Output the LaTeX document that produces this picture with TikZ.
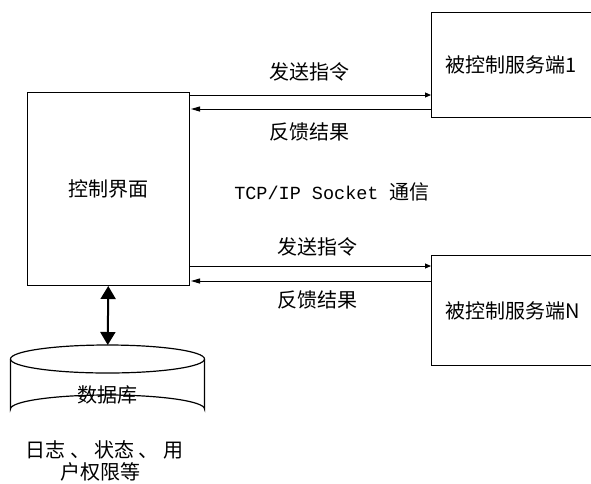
\documentclass[tikz,border=0pt]{standalone}
\usepackage{fontspec}
\setmainfont{Liberation Serif}
\newfontfamily\cjk{Noto Sans CJK SC}
\newfontfamily\monofam{Liberation Mono}
\usetikzlibrary{arrows.meta}
\begin{document}
\begin{tikzpicture}[x=1pt,y=-1pt,
  box/.style={draw, line width=1pt, inner sep=0pt, font=\cjk\fontsize{20}{22}\selectfont},
  lbl/.style={font=\cjk\fontsize{20}{22}\selectfont, inner sep=0pt},
  sendarrow/.style={line width=1pt, -{Triangle[length=6pt,width=5pt]}},
  backarrow/.style={line width=1pt, -{Triangle[length=9pt,width=5pt]}},
  dblarrow/.style={line width=2pt, {Triangle[length=13pt,width=15pt]}-{Triangle[length=13pt,width=15pt]}},
  cyl/.style={line width=1.2pt}]
\useasboundingbox (0,0) rectangle (591,483);
\clip (0,0) rectangle (591,483);
% boxes
\node[box, minimum width=161.5pt, minimum height=193pt, anchor=north west] (ctrl) at (27,92) {控制界面};
\node[box, anchor=north west, minimum height=105pt, text width=140pt, align=left, inner xsep=14pt] (s1) at (431,12) {被控制服务端1};
\node[box, anchor=north west, minimum height=110pt, text width=140pt, align=left, inner xsep=14pt] (sn) at (431,255) {被控制服务端N};
% y levels
\coordinate (ya) at (0,95);
\coordinate (yb) at (0,109);
\coordinate (yc) at (0,266);
\coordinate (yd) at (0,281);
% arrows
\draw[sendarrow] (ctrl.east |- ya) -- (s1.west |- ya);
\draw[backarrow] (s1.west |- yb) -- ([xshift=1.5pt]ctrl.east |- yb);
\draw[sendarrow] (ctrl.east |- yc) -- (sn.west |- yc);
\draw[backarrow] (sn.west |- yd) -- ([xshift=1.5pt]ctrl.east |- yd);
% labels
\node[lbl] (l1) at (309,72) {发送指令};
\node[lbl] (l2) at (309,132) {反馈结果};
\node[inner sep=0pt] (tcp) at (332,192) {\monofam\fontsize{18.5}{22}\selectfont TCP/IP Socket \cjk\fontsize{20}{22}\selectfont 通信};
\node[lbl] (l3) at (317,247) {发送指令};
\node[lbl] (l4) at (317,300) {反馈结果};
% database cylinder
\draw[cyl] (10.5,359) -- (10.5,409) arc[start angle=180,end angle=360,x radius=97,y radius=14] -- (204.5,359);
\draw[cyl] (107.5,359) ellipse [x radius=97, y radius=14];
\coordinate (dbtop) at (107.75,345);
\node[lbl] (db) at (107,395) {数据库};
\draw[dblarrow] (ctrl.south) -- (dbtop);
% note
\node[lbl, align=center] (note1) at (104.5,450) {日志 、 状态 、 用};
\node[lbl] (note2) at (100,472) {户权限等};
\end{tikzpicture}
\end{document}
